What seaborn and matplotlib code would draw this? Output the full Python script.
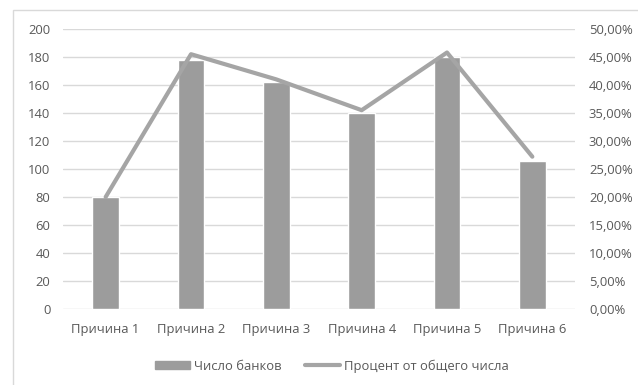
import matplotlib
matplotlib.use("Agg")
import matplotlib.pyplot as plt
import matplotlib.patches as mpatches
from matplotlib.lines import Line2D
from matplotlib.ticker import FuncFormatter, MultipleLocator
import seaborn as sns
import pandas as pd

categories = ["Причина 1", "Причина 2", "Причина 3", "Причина 4", "Причина 5", "Причина 6"]
banks = [80, 178, 162, 140, 180, 106]
percent = [20.0, 45.5, 41.0, 35.5, 45.8, 27.2]

bar_label = "Число банков"
line_label = "Процент от общего числа"

sns.set_theme(style="white")
plt.rcParams["font.family"] = ["Open Sans", "DejaVu Sans"]

text_color = "#595959"
grid_color = "#d9d9d9"
bar_color = "#9c9c9c"
line_color = "#a5a5a5"
fs = 9.4

df = pd.DataFrame({"cat": categories, "banks": banks, "pct": percent})

fig = plt.figure(figsize=(6.38, 3.85), dpi=100)
ax = fig.add_axes([63 / 638, 1 - 309 / 385, (575 - 63) / 638, (309 - 29) / 385])

sns.barplot(data=df, x="cat", y="banks", color=bar_color, width=0.31,
            saturation=1, ax=ax, zorder=2)
ax.set_ylim(0, 200)
ax.yaxis.set_major_locator(MultipleLocator(20))
ax.grid(axis="y", color=grid_color, linewidth=1, zorder=0)
ax.set_axisbelow(True)
for s in ax.spines.values():
    s.set_visible(False)
ax.set_xlabel("")
ax.set_ylabel("")
ax.tick_params(axis="both", length=0, colors=text_color, labelsize=fs)
ax.tick_params(axis="y", pad=9)
ax.tick_params(axis="x", pad=10)

ax2 = ax.twinx()
sns.lineplot(data=df, x="cat", y="pct", color=line_color, linewidth=3,
             ax=ax2, sort=False)
ax2.set_ylim(0, 50)
ax2.yaxis.set_major_locator(MultipleLocator(5))
ax2.yaxis.set_major_formatter(FuncFormatter(lambda v, p: f"{v:.2f}%".replace(".", ",")))
for s in ax2.spines.values():
    s.set_visible(False)
ax2.set_xlabel("")
ax2.set_ylabel("")
ax2.tick_params(axis="y", length=0, colors=text_color, labelsize=fs, pad=10)
ax.set_xlim(-0.5, len(categories) - 0.5)

handles = [
    mpatches.Patch(color=bar_color, label=bar_label),
    Line2D([0], [0], color=line_color, linewidth=3, label=line_label),
]
fig.legend(handles=handles, loc="center", bbox_to_anchor=(0.52, 1 - 366 / 385),
           ncol=2, frameon=False, fontsize=fs, labelcolor=text_color,
           handlelength=2.7, handleheight=0.6, handletextpad=0.3,
           columnspacing=1.8)

frame = mpatches.Rectangle((13 / 638, -0.5), 2, 1.5 - 10 / 385,
                           transform=fig.transFigure, fill=False,
                           edgecolor=grid_color, linewidth=1)
fig.patches.append(frame)

fig.savefig("out.png", dpi=100)
